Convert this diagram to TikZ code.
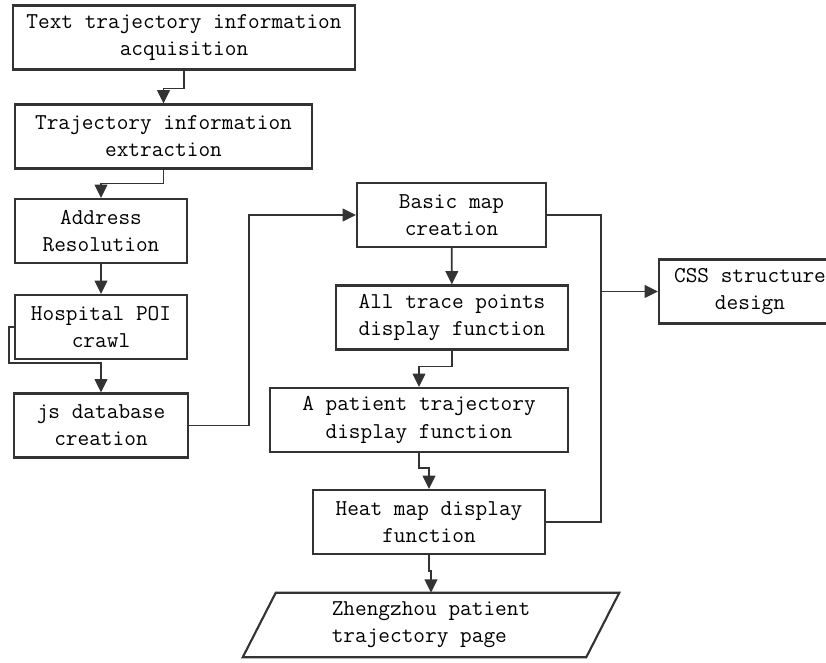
\documentclass[tikz,border=0pt]{standalone}
\usetikzlibrary{arrows.meta}

\newcommand\flowtextstyle{\fontsize{17}{20.3}\selectfont\ttfamily}
\newcommand\flowpx{0.75pt}
\newcommand\flowboxheight{64*\flowpx}
\tikzset{
  flowbox/.style={draw=black!80, line width=1.6pt, align=center,
    minimum height=\flowboxheight, inner sep=0pt, font=\flowtextstyle},
  flowpage/.style={align=left, minimum height=\flowboxheight,
    inner sep=0pt, font=\flowtextstyle},
  flowline/.style={draw=black!80, line width=1.3pt},
  flowarrow/.style={flowline, -{Triangle[length=10pt,width=9.5pt]}}
}

\begin{document}
\begin{tikzpicture}[x=0.75pt, y=-0.75pt]
    \useasboundingbox (0,0) rectangle (826,663);
    \clip (0,0) rectangle (826,663);
    \node[flowbox, minimum width=342*\flowpx] (text) at (184,37.5)
      {Text trajectory information\\acquisition};
    \node[flowbox, minimum width=297*\flowpx] (extract) at (163.5,136.5)
      {Trajectory information\\extraction};
    \node[flowbox, minimum width=172*\flowpx] (address) at (101,231)
      {Address\\Resolution};
    \node[flowbox, minimum width=172*\flowpx] (hospital) at (101,327)
      {Hospital POI\\crawl};
    \node[flowbox, minimum width=174*\flowpx] (jsdb) at (101,425.5)
      {js database\\creation};
    \node[flowbox, minimum width=189*\flowpx] (basic) at (451.5,215)
      {Basic map\\creation};
    \node[flowbox, minimum width=232*\flowpx] (alltrace) at (452,317.5)
      {All trace points\\display function};
    \node[flowbox, minimum width=298*\flowpx] (patient) at (419,420)
      {A patient trajectory\\display function};
    \node[flowbox, minimum width=232*\flowpx] (heat) at (429,522)
      {Heat map display\\function};
    \node[flowbox, minimum width=182*\flowpx] (css) at (750,291.5)
      {CSS structure\\design};
    \node[flowpage, minimum width=343*\flowpx] (page) at (431,625)
      {Zhengzhou patient\\trajectory page};
    \draw[flowline, line width=1.6pt]
      ([xshift=16.5*\flowpx]page.north west) -- ([xshift=16.5*\flowpx]page.north east)
      -- ([xshift=-16.5*\flowpx]page.south east) -- ([xshift=-16.5*\flowpx]page.south west)
      -- cycle;

    \draw[flowarrow] (text.south) -- ++(0,18) -| (extract.north);
    \draw[flowarrow] (extract.south) -- ++(0,14) -| (address.north);
    \draw[flowarrow] (address) -- (hospital);
    \draw[flowarrow] (hospital.west) -- ++(-5,0) -- ++(0,36) -| (jsdb.north);
    \draw[flowarrow] (jsdb.east) -- ++(60,0) |- (basic.west);
    \draw[flowarrow] (basic) -- (alltrace);
    \draw[flowarrow] (alltrace.south) -- ++(0,16) -| (patient.north);
    \draw[flowarrow] (patient.south) -- ++(0,15) -| (heat.north);
    \draw[flowarrow] (heat.south) -- ++(0,16) -| (page.north);
    \draw[flowline] (basic.east) -- ++(54,0) coordinate (bus) |- (heat.east);
    \draw[flowarrow] (bus |- css.west) -- (css.west);
\end{tikzpicture}
\end{document}
